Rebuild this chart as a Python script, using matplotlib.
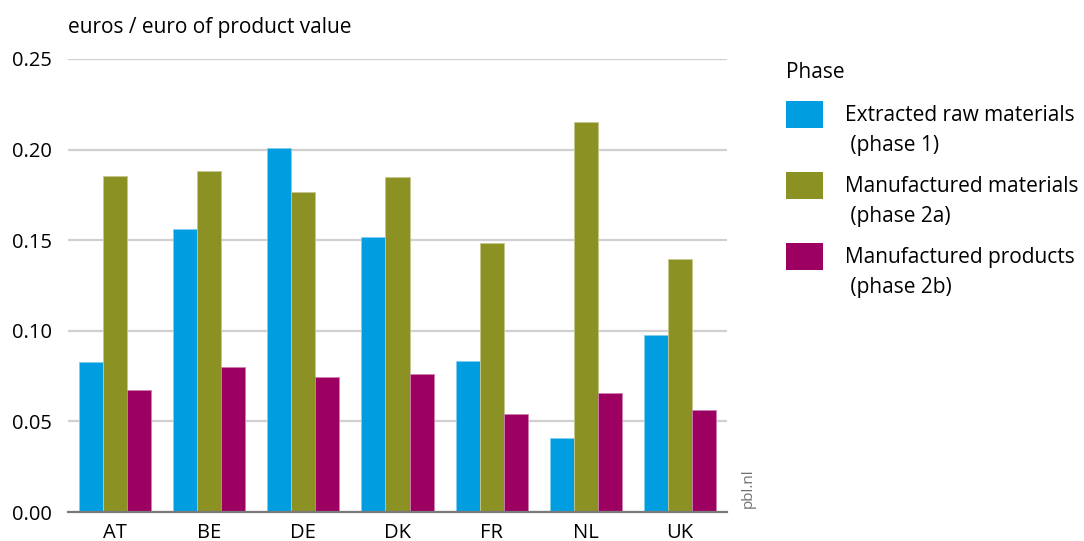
import matplotlib

matplotlib.use("Agg")
import matplotlib.pyplot as plt
import numpy as np
from matplotlib.patches import Rectangle

countries = ["AT", "BE", "DE", "DK", "FR", "NL", "UK"]
extracted_raw = [0.0828, 0.156, 0.2009, 0.152, 0.0833, 0.0408, 0.0977]
manufactured_materials = [0.1854, 0.188, 0.1766, 0.185, 0.1484, 0.215, 0.1396]
manufactured_products = [0.0673, 0.080, 0.0745, 0.076, 0.054, 0.0657, 0.0563]
series_labels = [
    "Extracted raw materials\n (phase 1)",
    "Manufactured materials\n (phase 2a)",
    "Manufactured products\n (phase 2b)",
]
yticks = [0.0, 0.05, 0.10, 0.15, 0.20, 0.25]

colors = ["#009EE0", "#8C9124", "#9C0061"]
edge_colors = ["#7FCEF0", "#C5C88F", "#CD7FB0"]

plt.rcParams["font.family"] = ["Open Sans", "DejaVu Sans"]

fig = plt.figure(figsize=(10.84, 5.41), dpi=100)
ax = fig.add_axes([68 / 1084, 29 / 541, 659 / 1084, 453 / 541])

x = np.arange(len(countries))
width = 0.255
series = [extracted_raw, manufactured_materials, manufactured_products]
for i, (values, color, edge) in enumerate(zip(series, colors, edge_colors)):
    ax.bar(x + (i - 1) * width, values, width, color=color, edgecolor=edge,
           linewidth=0.6, zorder=3)

ax.set_xlim(-0.5, len(countries) - 0.5)
ax.set_ylim(0, 0.25)
ax.set_yticks(yticks)
ax.set_yticklabels([f"{v:.2f}" for v in yticks])
ax.set_xticks(x)
ax.set_xticklabels(countries)
ax.tick_params(axis="both", length=0, labelsize=14.5, colors="#000000")
ax.tick_params(axis="y", pad=11.5)
ax.tick_params(axis="x", pad=8)
ax.grid(axis="y", color="#d0d0d0", linewidth=1.6, zorder=0)
for side in ["top", "right", "left"]:
    ax.spines[side].set_visible(False)
ax.spines["bottom"].set_color("#7a7a7a")
ax.spines["bottom"].set_linewidth(1.6)
ax.spines["bottom"].set_zorder(4)

fig.text(68 / 1084, 1 - 28 / 541, "euros / euro of product value", fontsize=15,
         va="center", ha="left")
fig.text(748 / 1084, 1 - 488 / 541, "pbl.nl", fontsize=11, color="#707070",
         rotation=90, ha="center", va="center")

# legend drawn by hand so swatches line up with the first text line
fig.text(786 / 1084, 1 - 72 / 541, "Phase", fontsize=15, va="center", ha="left")
for i, (label, color) in enumerate(zip(series_labels, colors)):
    yc = 114 + i * 71
    fig.add_artist(Rectangle((786 / 1084, 1 - (yc + 14) / 541), 37 / 1084, 27 / 541,
                             transform=fig.transFigure, facecolor=color,
                             edgecolor="none"))
    fig.text(845 / 1084, 1 - (yc - 9) / 541, label, fontsize=15, va="top",
             ha="left", linespacing=1.55)

fig.savefig("out.png", dpi=100)
